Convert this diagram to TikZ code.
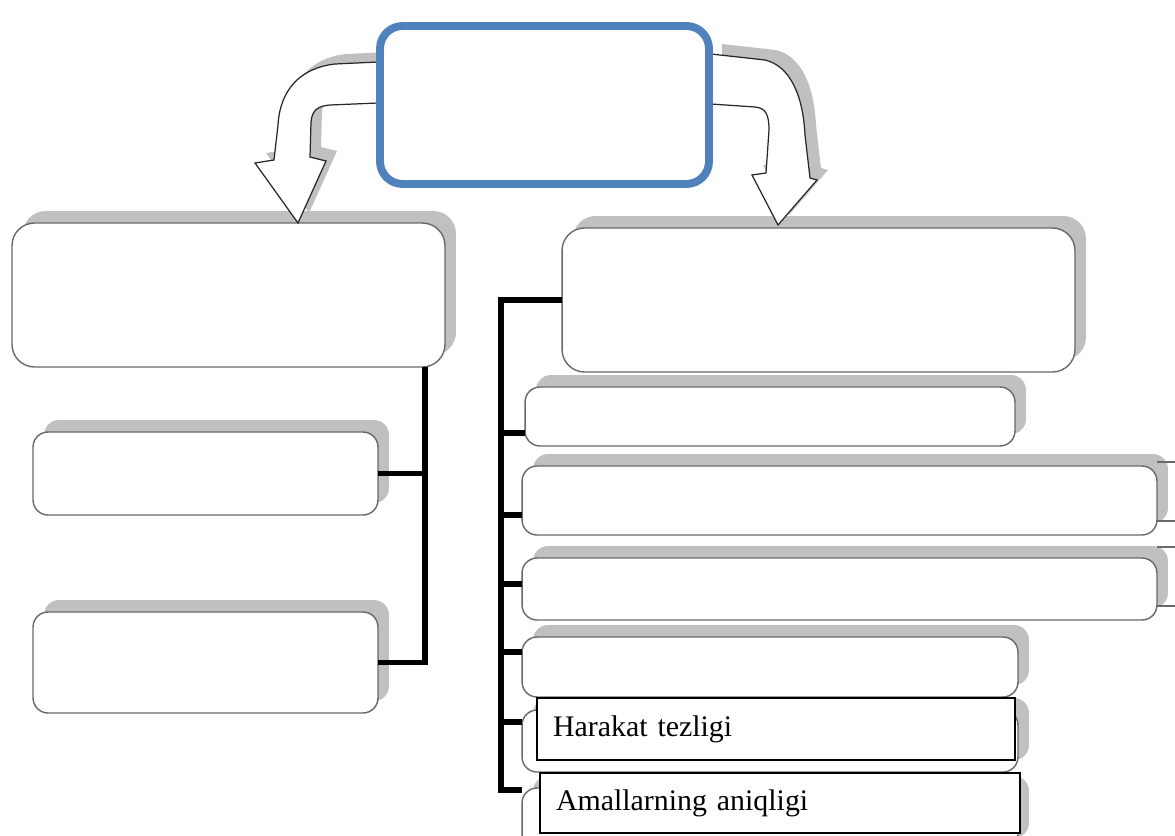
\documentclass[tikz,border=0pt]{standalone}
\usepackage{fontspec}
\setmainfont{Liberation Serif}
\usetikzlibrary{shadows}
\definecolor{topblue}{RGB}{79,129,189}
\definecolor{shade}{RGB}{192,192,192}
\definecolor{rim}{RGB}{105,105,105}

\begin{document}
\begin{tikzpicture}[x=0.02cm, y=-0.02cm,
	every node/.style={inner sep=0pt, outer sep=0pt},
	rbox/.style={draw=rim, line width=0.8pt, fill=white, rounded corners=0.3cm,
		general shadow={fill=shade, shadow xshift=0.22cm, shadow yshift=0.24cm}},
	tbox/.style={draw, line width=0.8pt, fill=white, text width=8.92cm, inner xsep=0.32cm,
		align=left, font=\fontsize{17}{20}\selectfont},
	conn/.style={line width=3.4pt, line join=miter},
	barrow/.style={draw=black!85, line width=0.7pt, fill=white},
	barrowshade/.style={fill=shade, xshift=0.22cm, yshift=0.2cm}]
	\useasboundingbox (0,0) rectangle (1175,835);
	\clip (0,0) rectangle (1175,835);
	
	\node[rbox, rounded corners=0.45cm, minimum width=8.66cm, minimum height=2.88cm] (l0) at (228.5,295) {};
	\node[rbox, rounded corners=0.45cm, minimum width=10.26cm, minimum height=2.88cm] (r0) at (818.5,300) {};
	
	\node[rbox, minimum width=6.9cm, minimum height=1.66cm] (l1) at (205.5,473.5) {};
	\node[rbox, minimum width=6.9cm, minimum height=2.02cm] (l2) at (205.5,662.5) {};
	
	\node[rbox, minimum width=9.8cm, minimum height=1.18cm] (r1) at (770,416.5) {};
	\node[rbox, minimum width=12.7cm, minimum height=1.38cm] (r2) at (839.5,500.5) {};
	\node[rbox, minimum width=12.7cm, minimum height=1.24cm] (r3) at (839.5,589) {};
	\node[rbox, minimum width=9.92cm, minimum height=1.2cm] (r4) at (770,667) {};
	\node[rbox, minimum width=9.92cm, minimum height=1.24cm] (r5) at (770,741) {};
	\node[rbox, minimum width=9.92cm, minimum height=1.24cm] (r6) at (770,819) {};
	
	\node[tbox, minimum height=1.24cm] (speed) at (776,729) {Harakat tezligi};
	\node[tbox, text width=8.96cm, minimum height=1.2cm] (accuracy) at (780,803) {Amallarning aniqligi};
	
	\coordinate (lbus) at (425,663);
	\draw[conn] (lbus |- l0.south) |- (l2.east);
	\draw[conn] (lbus |- l1.east) -- (l1.east);
	
	\coordinate (rbus) at (501,790);
	\draw[conn] (r0.west) -| (rbus) -- (rbus -| r6.west);
	\foreach \b/\y in {r1/433, r2/515, r3/584, r4/652, r5/722}
		\draw[conn] (rbus |- 0,\y) -- (\b.west |- 0,\y);
	
	\foreach \y in {462, 521, 547, 606}
		\draw[rim, line width=0.6pt] (1157,\y) -- (1175,\y);
	
	\foreach \s in {barrowshade, barrow} {
		\path[\s] (378,62) -- (335,64) .. controls (300,68) and (280,90) .. (278,125)
			-- (274,160) -- (255,163) -- (298,223) -- (326,161) -- (310,157) -- (311,122)
			.. controls (312,110) and (318,106) .. (330,105) -- (378,103) -- cycle;
		\path[\s] (711,54) -- (765,60) .. controls (790,66) and (803,95) .. (805,135)
			-- (810,178) -- (817,180) -- (778,225) -- (752,175) -- (766,173) -- (769,130)
			.. controls (769,115) and (766,108) .. (755,107) -- (711,104) -- cycle;
	}
	
	\node[draw=topblue, line width=4.5pt, rounded corners=0.45cm, fill=white,
		minimum width=6.58cm, minimum height=3.16cm] (top) at (544.5,105) {};
\end{tikzpicture}
\end{document}
